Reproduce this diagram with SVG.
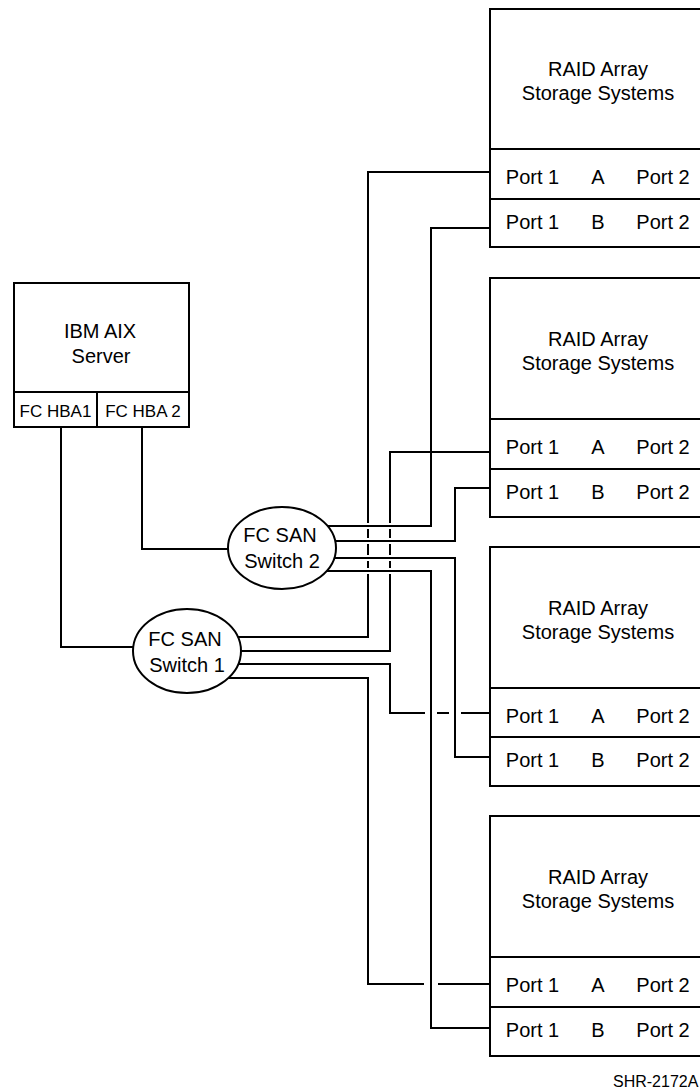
<svg xmlns="http://www.w3.org/2000/svg" width="700" height="1091" viewBox="0 0 700 1091">
<style>
.bx{fill:#fff;stroke:#000;stroke-width:2}
.ln{fill:none;stroke:#000;stroke-width:2}
.cn{fill:none;stroke:#000;stroke-width:2;stroke-linejoin:miter}
.t{font-family:"Liberation Sans",Arial,sans-serif;font-size:20px;fill:#000;text-anchor:middle}
.s{font-family:"Liberation Sans",Arial,sans-serif;font-size:17px;fill:#000;text-anchor:middle}
.f{font-family:"Liberation Sans",Arial,sans-serif;font-size:16px;fill:#000}
</style>
<rect width="700" height="1091" fill="#fff"/>
<g id="connectors">
<path class="cn" d="M61,427 V647 H187"/>
<path class="cn" d="M142,427 V549 H282"/>
<path class="cn" d="M187,637 H368 V574 M368,568 V561 M368,555 V544 M368,538 V529 M368,523 V172 H490"/>
<path class="cn" d="M187,651 H390 V574 M390,568 V561 M390,555 V544 M390,538 V529 M390,523 V452 H490"/>
<path class="cn" d="M187,664 H390 V713 H425 M437,713 H449 M461,713 H490"/>
<path class="cn" d="M187,678 H368 V984 H424 M438,984 H490"/>
<path class="cn" d="M282,526 H431 V228 H490"/>
<path class="cn" d="M282,541 H455 V488 H490"/>
<path class="cn" d="M282,558 H455 V757 H490"/>
<path class="cn" d="M282,571 H431 V1028 H490"/>
</g>
<g id="server">
<rect class="bx" x="14" y="283" width="175" height="144"/>
<path class="ln" d="M14,392 H189 M97,392 V427"/>
<text class="t" x="100" y="338">IBM AIX</text>
<text class="t" x="101" y="363">Server</text>
<text class="s" x="55.5" y="417">FC HBA1</text>
<text class="s" x="143" y="417">FC HBA 2</text>
</g>
<g id="switch2">
<ellipse class="bx" cx="282" cy="548" rx="54" ry="41"/>
<text class="t" x="280" y="542">FC SAN</text>
<text class="t" x="282" y="568">Switch 2</text>
</g>
<g id="switch1">
<ellipse class="bx" cx="187" cy="651" rx="54" ry="42"/>
<text class="t" x="185" y="646">FC SAN</text>
<text class="t" x="187" y="672">Switch 1</text>
</g>
<g id="storage1">
<rect class="bx" x="490" y="9" width="216" height="238"/>
<path class="ln" d="M490,149 H706 M490,199 H706"/>
<text class="t" x="598" y="76">RAID Array</text>
<text class="t" x="598" y="100">Storage Systems</text>
<text class="t" x="532.5" y="184">Port 1</text><text class="t" x="598" y="184">A</text><text class="t" x="663" y="184">Port 2</text>
<text class="t" x="532.5" y="229">Port 1</text><text class="t" x="598" y="229">B</text><text class="t" x="663" y="229">Port 2</text>
</g>
<g id="storage2">
<rect class="bx" x="490" y="278" width="216" height="239"/>
<path class="ln" d="M490,419 H706 M490,469 H706"/>
<text class="t" x="598" y="346">RAID Array</text>
<text class="t" x="598" y="370">Storage Systems</text>
<text class="t" x="532.5" y="454">Port 1</text><text class="t" x="598" y="454">A</text><text class="t" x="663" y="454">Port 2</text>
<text class="t" x="532.5" y="499">Port 1</text><text class="t" x="598" y="499">B</text><text class="t" x="663" y="499">Port 2</text>
</g>
<g id="storage3">
<rect class="bx" x="490" y="547" width="216" height="239"/>
<path class="ln" d="M490,688 H706 M490,737 H706"/>
<text class="t" x="598" y="615">RAID Array</text>
<text class="t" x="598" y="639">Storage Systems</text>
<text class="t" x="532.5" y="723">Port 1</text><text class="t" x="598" y="723">A</text><text class="t" x="663" y="723">Port 2</text>
<text class="t" x="532.5" y="767">Port 1</text><text class="t" x="598" y="767">B</text><text class="t" x="663" y="767">Port 2</text>
</g>
<g id="storage4">
<rect class="bx" x="490" y="816" width="216" height="240"/>
<path class="ln" d="M490,957 H706 M490,1007 H706"/>
<text class="t" x="598" y="884">RAID Array</text>
<text class="t" x="598" y="908">Storage Systems</text>
<text class="t" x="532.5" y="992">Port 1</text><text class="t" x="598" y="992">A</text><text class="t" x="663" y="992">Port 2</text>
<text class="t" x="532.5" y="1037">Port 1</text><text class="t" x="598" y="1037">B</text><text class="t" x="663" y="1037">Port 2</text>
</g>
<g id="label">
<text class="f" x="613" y="1087">SHR-2172A</text>
</g>
</svg>
